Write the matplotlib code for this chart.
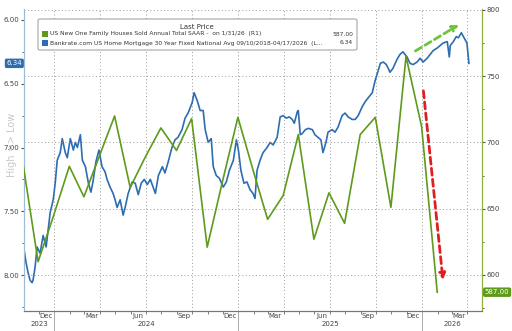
import numpy as np
import pandas as pd
import matplotlib
matplotlib.use("Agg")
import matplotlib.pyplot as plt
import matplotlib.dates as mdates
from matplotlib.patches import FancyBboxPatch, Rectangle
from matplotlib.transforms import blended_transform_factory
from matplotlib.ticker import MultipleLocator, FormatStrFormatter

# US new one family houses sold, SAAR (thousands), month-end, right axis
sales_dates = pd.date_range("2023-10-31", "2026-01-31", freq="ME")
sales = [684, 610, 645, 682, 659, 690, 720, 666, 689, 711, 694, 718, 621, 670, 719,
         678, 642, 660, 706, 627, 662, 639, 706, 719, 651, 765, 712, 587]

# Bankrate 30y fixed mortgage rate (%), left axis (inverted)
rate_dates = [
    "2023-11-02", "2023-11-06", "2023-11-10", "2023-11-14", "2023-11-18", "2023-11-20",
    "2023-11-24", "2023-11-28", "2023-12-04", "2023-12-10", "2023-12-16", "2023-12-24",
    "2023-12-30", "2024-01-03", "2024-01-07", "2024-01-13", "2024-01-17", "2024-01-23",
    "2024-01-27", "2024-02-02", "2024-02-08", "2024-02-12", "2024-02-16", "2024-02-22",
    "2024-02-26", "2024-03-03", "2024-03-09", "2024-03-14", "2024-03-18", "2024-03-24",
    "2024-03-30", "2024-04-05", "2024-04-11", "2024-04-15", "2024-04-21", "2024-04-27",
    "2024-05-01", "2024-05-05", "2024-05-11", "2024-05-17", "2024-05-21", "2024-05-27",
    "2024-06-04", "2024-06-10", "2024-06-16", "2024-06-22", "2024-06-28", "2024-07-04",
    "2024-07-10", "2024-07-20", "2024-07-26", "2024-08-03", "2024-08-08", "2024-08-14",
    "2024-08-22", "2024-08-28", "2024-09-03", "2024-09-11", "2024-09-17", "2024-09-23",
    "2024-10-01", "2024-10-05", "2024-10-11", "2024-10-17", "2024-10-23", "2024-10-27",
    "2024-11-02", "2024-11-08", "2024-11-12", "2024-11-18", "2024-11-24", "2024-12-02",
    "2024-12-08", "2024-12-14", "2024-12-22", "2024-12-28", "2025-01-01", "2025-01-06",
    "2025-01-12", "2025-01-18", "2025-01-24", "2025-01-30", "2025-02-03", "2025-02-07",
    "2025-02-13", "2025-02-19", "2025-02-27", "2025-03-05", "2025-03-11", "2025-03-19",
    "2025-03-25", "2025-03-31", "2025-04-06", "2025-04-12", "2025-04-18", "2025-04-22",
    "2025-04-28", "2025-04-30", "2025-05-04", "2025-05-08", "2025-05-14", "2025-05-20",
    "2025-05-28", "2025-06-02", "2025-06-08", "2025-06-14", "2025-06-18", "2025-06-24",
    "2025-06-28", "2025-07-06", "2025-07-12", "2025-07-18", "2025-07-26", "2025-08-01",
    "2025-08-07", "2025-08-15", "2025-08-21", "2025-08-27", "2025-09-04", "2025-09-10",
    "2025-09-16", "2025-09-24", "2025-09-30", "2025-10-04", "2025-10-10", "2025-10-16",
    "2025-10-22", "2025-10-27", "2025-10-29", "2025-11-04", "2025-11-12", "2025-11-18",
    "2025-11-24", "2025-12-02", "2025-12-08", "2025-12-14", "2025-12-22", "2025-12-28",
    "2026-01-03", "2026-01-11", "2026-01-17", "2026-01-23", "2026-01-31", "2026-02-06",
    "2026-02-12", "2026-02-20", "2026-02-24", "2026-02-26", "2026-03-04", "2026-03-10",
    "2026-03-14", "2026-03-20", "2026-03-24", "2026-03-31", "2026-04-04",
]
rates = [
    7.80, 7.90, 7.98, 8.04, 8.06, 8.04, 7.94, 7.78, 7.83, 7.69, 7.78, 7.51,
    7.41, 7.28, 7.10, 7.04, 6.93, 7.04, 7.08, 6.93, 7.02, 6.96, 7.00, 6.90,
    7.10, 7.15, 7.28, 7.35, 7.27, 7.11, 7.02, 7.15, 7.19, 7.25, 7.31, 7.36,
    7.41, 7.47, 7.41, 7.53, 7.47, 7.36, 7.27, 7.28, 7.37, 7.28, 7.25, 7.29,
    7.25, 7.36, 7.22, 7.15, 7.20, 7.12, 7.00, 6.94, 6.92, 6.86, 6.77, 6.73,
    6.65, 6.57, 6.63, 6.71, 6.71, 6.86, 6.96, 6.93, 7.15, 7.22, 7.24, 7.31,
    7.27, 7.18, 7.10, 6.94, 7.02, 7.18, 7.28, 7.27, 7.33, 7.36, 7.40, 7.18,
    7.10, 7.04, 7.00, 6.96, 6.98, 6.92, 6.76, 6.75, 6.77, 6.76, 6.78, 6.81,
    6.72, 6.71, 6.90, 6.89, 6.86, 6.85, 6.86, 6.90, 6.92, 6.94, 7.04, 6.96,
    6.88, 6.86, 6.88, 6.84, 6.75, 6.73, 6.76, 6.78, 6.78, 6.75, 6.68, 6.64,
    6.61, 6.57, 6.47, 6.42, 6.34, 6.33, 6.35, 6.39, 6.41, 6.38, 6.31, 6.27,
    6.25, 6.29, 6.34, 6.35, 6.33, 6.30, 6.33, 6.30, 6.27, 6.24, 6.22, 6.20,
    6.18, 6.17, 6.29, 6.20, 6.17, 6.13, 6.14, 6.10, 6.13, 6.18, 6.34,
]
rate_dates = pd.to_datetime(rate_dates)

green = "#5e9a1c"
blue = "#2d6db2"
grid_kw = dict(color="#9a9a9a", lw=0.7, ls=(0, (1, 2.5)))

fig = plt.figure(figsize=(5.12, 3.31), dpi=100)
ax = fig.add_axes([24/512, 20/331, 458/512, 302/331])
ax2 = ax.twinx()

x0, x1 = pd.Timestamp("2023-11-02"), pd.Timestamp("2026-04-30")
ax.set_xlim(x0, x1)

ax.plot(rate_dates, rates, color=blue, lw=1.2, zorder=3)
ax2.plot(sales_dates, sales, color=green, lw=1.2, zorder=3)

ax.set_ylim(8.282, 5.914)
ax.yaxis.set_major_locator(MultipleLocator(0.5))
ax.yaxis.set_minor_locator(MultipleLocator(0.25))
ax.yaxis.set_major_formatter(FormatStrFormatter("%.2f"))

ax2.set_ylim(572.8, 800.75)
ax2.yaxis.set_major_locator(MultipleLocator(50))
ax2.yaxis.set_minor_locator(MultipleLocator(25))
ax2.grid(axis="y", **grid_kw)

# quarterly vertical grid
for q in pd.date_range("2024-01-01", "2026-04-01", freq="QS"):
    ax.axvline(q, zorder=1, **grid_kw)

# months: labels at mid month, ticks each month
ax.xaxis.set_major_locator(mdates.MonthLocator(bymonth=[3, 6, 9, 12], bymonthday=15))
ax.xaxis.set_major_formatter(mdates.DateFormatter("%b"))
ax.xaxis.set_minor_locator(mdates.MonthLocator())
ax.tick_params(axis="x", which="major", length=0, pad=1.5, labelsize=5, labelcolor="#444444")
ax.tick_params(axis="x", which="minor", length=2, color="#666666")
ax.tick_params(axis="y", which="both", labelsize=5, labelcolor="#444444", color="#555555", pad=1)
ax.tick_params(axis="y", which="major", length=2.5)
ax.tick_params(axis="y", which="minor", length=1.5)
ax2.tick_params(axis="y", which="both", labelsize=5, labelcolor="#444444", color="#555555", pad=1)
ax2.tick_params(axis="y", which="major", length=2.5)
ax2.tick_params(axis="y", which="minor", length=1.5)

for a in (ax, ax2):
    a.spines["top"].set_visible(False)
    a.spines["bottom"].set_color("#777777")
    a.spines["left"].set_color("#9fbcd6")
    a.spines["right"].set_color("#8fb03a")
    a.spines["bottom"].set_linewidth(0.8)

# year labels and separators under the axis
tb = blended_transform_factory(ax.transData, ax.transAxes)
year_edges = [x0, pd.Timestamp("2024-01-01"), pd.Timestamp("2025-01-01"),
              pd.Timestamp("2026-01-01"), x1]
for i, yr in enumerate(["2023", "2024", "2025", "2026"]):
    mid = year_edges[i] + (year_edges[i + 1] - year_edges[i]) / 2
    ax.text(mid, -0.042, yr, transform=tb, ha="center", va="center", fontsize=5, color="#444444")
for e in year_edges[1:4]:
    ax.plot([e, e], [0, -0.075], transform=tb, color="#aaaaaa", lw=0.7, clip_on=False)

# last value boxes
ax.text(-0.004, rates[-1], "%.2f" % rates[-1], transform=blended_transform_factory(ax.transAxes, ax.transData),
        ha="right", va="center", fontsize=5, color="white",
        bbox=dict(boxstyle="round,pad=0.25", fc=blue, ec="none"))
ax2.text(1.006, sales[-1], "%.2f" % sales[-1], transform=blended_transform_factory(ax2.transAxes, ax2.transData),
         ha="left", va="center", fontsize=5, color="white",
         bbox=dict(boxstyle="round,pad=0.25", fc=green, ec="none"))

# arrows
ax2.annotate("", xy=(pd.Timestamp("2026-03-20"), 790), xytext=(pd.Timestamp("2025-12-14"), 768),
             arrowprops=dict(arrowstyle="-|>", color="#6cc63c", lw=2, ls=(0, (2.5, 1.5)), mutation_scale=9),
             zorder=5)
ax2.annotate("", xy=(pd.Timestamp("2026-02-12"), 594), xytext=(pd.Timestamp("2026-01-03"), 741),
             arrowprops=dict(arrowstyle="-|>", color="#e02020", lw=2, ls=(0, (2.5, 1.5)), mutation_scale=9),
             zorder=5)

# side label
fig.text(12/512, 1 - 145/331, "High => Low", rotation=90, ha="center", va="center",
         fontsize=7, color="#c8c8c8", zorder=0)

# legend box
fig.patches.append(FancyBboxPatch((38/512, 1 - 50/331), 319/512, 31/331,
                                  boxstyle="round,pad=0,rounding_size=0.004",
                                  transform=fig.transFigure, fc="white", ec="#999999", lw=0.7, zorder=10))
fig.text(197/512, 1 - 27/331, "Last Price", ha="center", va="center", fontsize=5, color="#333333", zorder=11)
rows = [
    (green, "US New One Family Houses Sold Annual Total SAAR -  on 1/31/26  (R1)", "%.2f" % sales[-1], 34),
    (blue, "Bankrate.com US Home Mortgage 30 Year Fixed National Avg 09/10/2018-04/17/2026  (L...",
     "%.2f" % rates[-1], 43),
]
for col, lab, val, yy in rows:
    fig.patches.append(Rectangle((42/512, 1 - (yy + 3) / 331), 6/512, 6/331,
                                 transform=fig.transFigure, fc=col, ec="none", zorder=11))
    fig.text(50/512, 1 - yy/331, lab, ha="left", va="center", fontsize=4.35, color="#333333", zorder=11)
    fig.text(353/512, 1 - yy/331, val, ha="right", va="center", fontsize=4.35, color="#333333", zorder=11)

fig.savefig("out.png", dpi=100)
